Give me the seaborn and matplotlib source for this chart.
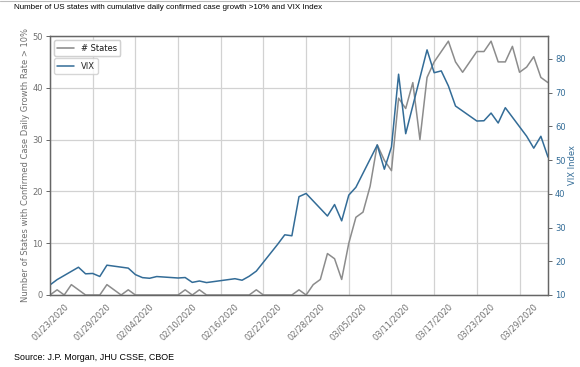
import matplotlib
matplotlib.use("Agg")
import matplotlib.pyplot as plt
import matplotlib.dates as mdates
import matplotlib.lines as mlines
import numpy as np
import pandas as pd
import seaborn as sns

# number of states with cumulative daily confirmed case growth >10% (daily, 01/23 - 04/02)
state_dates = pd.date_range("2020-01-23", "2020-04-02", freq="D")
state_counts = [
    0, 1, 0, 2, 1, 0, 0, 0, 2, 1,      # 01/23 - 02/01
    0, 1, 0, 0, 0, 0, 0, 0, 0, 1,      # 02/02 - 02/11
    0, 1, 0, 0, 0, 0, 0, 0, 0, 1,      # 02/12 - 02/21
    0, 0, 0, 0, 0, 1, 0, 2, 3, 8,      # 02/22 - 03/02
    7, 3, 10, 15, 16, 21, 29, 26, 24, 38,  # 03/03 - 03/12
    36, 41, 30, 42, 45, 47, 49, 45, 43, 45,  # 03/13 - 03/22
    47, 47, 49, 45, 45, 48, 43, 44, 46, 42,  # 03/23 - 04/01
    41,                                # 04/02
]

# VIX close on trading days
vix_dates = pd.to_datetime([
    "2020-01-23", "2020-01-24", "2020-01-27", "2020-01-28", "2020-01-29",
    "2020-01-30", "2020-01-31", "2020-02-03", "2020-02-04", "2020-02-05",
    "2020-02-06", "2020-02-07", "2020-02-10", "2020-02-11", "2020-02-12",
    "2020-02-13", "2020-02-14", "2020-02-18", "2020-02-19", "2020-02-20",
    "2020-02-21", "2020-02-24", "2020-02-25", "2020-02-26", "2020-02-27",
    "2020-02-28", "2020-03-02", "2020-03-03", "2020-03-04", "2020-03-05",
    "2020-03-06", "2020-03-09", "2020-03-10", "2020-03-11", "2020-03-12",
    "2020-03-13", "2020-03-16", "2020-03-17", "2020-03-18", "2020-03-19",
    "2020-03-20", "2020-03-23", "2020-03-24", "2020-03-25", "2020-03-26",
    "2020-03-27", "2020-03-30", "2020-03-31", "2020-04-01", "2020-04-02",
])
vix_values = [
    12.98, 14.56, 18.23, 16.28, 16.39, 15.49, 18.84, 17.97, 16.05, 15.15,
    14.96, 15.47, 15.04, 15.18, 13.74, 14.15, 13.68, 14.83, 14.38, 15.56,
    17.08, 25.03, 27.85, 27.56, 39.16, 40.11, 33.42, 36.82, 31.99, 39.62,
    41.94, 54.46, 47.30, 53.90, 75.47, 57.83, 82.69, 75.91, 76.45, 72.00,
    66.04, 61.59, 61.67, 63.95, 61.00, 65.54, 57.08, 53.54, 57.06, 50.91,
]

GRAY = "#8c8c8c"
BLUE = "#336c97"
TEXT_GRAY = "#707070"

sns.set_style("white")
plt.rcParams["font.family"] = ["DejaVu Sans"]

fig = plt.figure(figsize=(5.8, 3.67), dpi=100)
ax = fig.add_axes([0.0862, 0.1962, 0.8586, 0.7057])
ax2 = ax.twinx()

sns.lineplot(x=state_dates, y=state_counts, ax=ax, color=GRAY, lw=1.1, legend=False)
sns.lineplot(x=vix_dates, y=vix_values, ax=ax2, color=BLUE, lw=1.1, legend=False)

ax.set_xlim(pd.Timestamp("2020-01-23"), pd.Timestamp("2020-04-02"))
ax.set_ylim(0, 50)
ax2.set_ylim(10, 86.8)
ax.set_yticks([0, 10, 20, 30, 40, 50])
ax2.set_yticks([10, 20, 30, 40, 50, 60, 70, 80])

ax.set_xticks(pd.date_range("2020-01-23", "2020-03-29", freq="6D"))
ax.xaxis.set_major_formatter(mdates.DateFormatter("%m/%d/%Y"))
for lab in ax.get_xticklabels():
    lab.set_rotation(45)

ax.grid(True, color="#d2d2d2", lw=0.9)
ax2.grid(False)
ax.set_axisbelow(True)

for a in (ax, ax2):
    for sp in a.spines.values():
        sp.set_color("#666666")
        sp.set_linewidth(0.9)
        sp.set_visible(True)

ax.tick_params(axis="both", labelsize=6, colors=TEXT_GRAY, length=3, width=0.7, pad=2)
ax.tick_params(axis="both", color="#666666")
ax2.tick_params(axis="y", labelsize=6, colors=BLUE, length=3, width=0.7, pad=2)
ax2.tick_params(axis="y", color="#666666")

ax.set_xlabel("")
ax.set_ylabel("Number of States with Confirmed Case Daily Growth Rate > 10%",
              fontsize=6, color=TEXT_GRAY, labelpad=2)
ax2.set_ylabel("VIX Index", fontsize=6, color=BLUE, labelpad=2)

h1 = mlines.Line2D([], [], color=GRAY, lw=1.1, label="# States")
h2 = mlines.Line2D([], [], color=BLUE, lw=1.1, label="VIX")
leg1 = ax.legend(handles=[h1], loc="upper left", fontsize=6, frameon=True)
ax.add_artist(leg1)
ax2.legend(handles=[h2], loc="upper left", bbox_to_anchor=(0, 0.93),
           fontsize=6, frameon=True)

fig.text(0.024, 0.979, "Number of US states with cumulative daily confirmed case growth >10% and VIX Index",
         fontsize=5.8, family="Liberation Sans", color="black", va="center", ha="left")
fig.text(0.024, 0.027, "Source: J.P. Morgan, JHU CSSE, CBOE",
         fontsize=6.4, family="Liberation Sans", color="black", va="center", ha="left")
fig.add_artist(mlines.Line2D([0, 1], [0.998, 0.998], color="#bbbbbb", lw=0.8,
                             transform=fig.transFigure))

fig.savefig("out.png", dpi=100)
